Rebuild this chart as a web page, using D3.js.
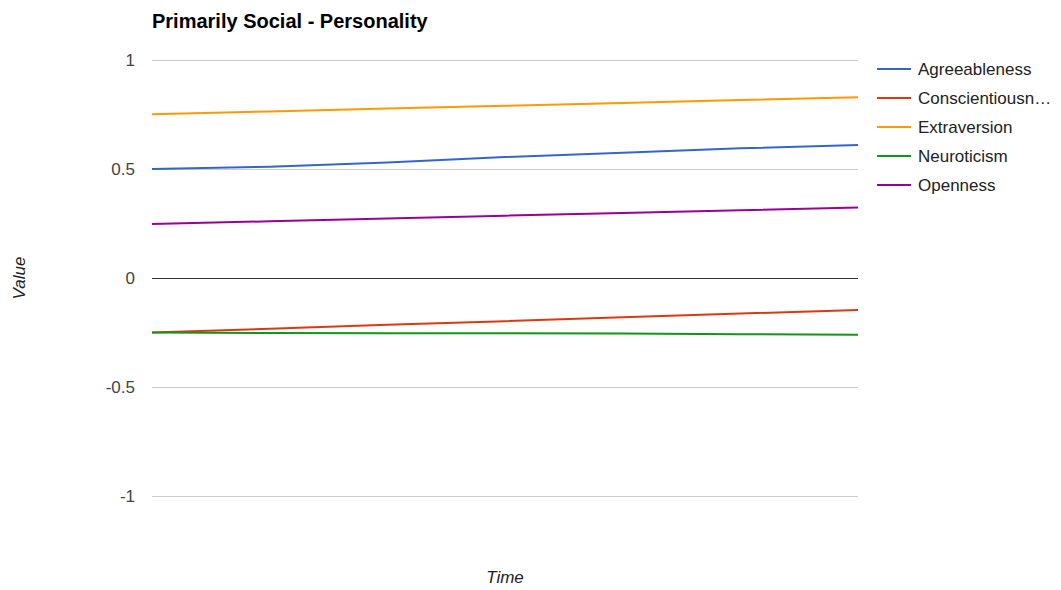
<!DOCTYPE html>
<html>
<head>
<meta charset="utf-8">
<script src="https://cdn.jsdelivr.net/npm/d3@7"></script>
<style>
  html, body { margin: 0; padding: 0; background: #fff; }
  svg { display: block; font-family: "Liberation Sans", Arial, sans-serif; }
</style>
</head>
<body>
<svg id="chart" width="1061" height="590"></svg>
<script>
// Time steps along the x axis
const timeSteps = [0, 1, 2, 3, 4, 5, 6];

// Personality trait series
const seriesNames = ["Agreeableness", "Conscientiousness", "Extraversion", "Neuroticism", "Openness"];
const legendLabels = ["Agreeableness", "Conscientiousn\u2026", "Extraversion", "Neuroticism", "Openness"];
const agreeableness     = [0.50, 0.51, 0.53, 0.555, 0.575, 0.595, 0.61];
const conscientiousness = [-0.25, -0.233, -0.215, -0.198, -0.18, -0.163, -0.147];
const extraversion      = [0.751, 0.764, 0.777, 0.790, 0.803, 0.816, 0.829];
const neuroticism       = [-0.25, -0.252, -0.253, -0.253, -0.255, -0.258, -0.26];
const openness          = [0.248, 0.26, 0.273, 0.286, 0.298, 0.311, 0.323];
const seriesValues = [agreeableness, conscientiousness, extraversion, neuroticism, openness];
const seriesColors = ["#3366cc", "#dc3912", "#ff9900", "#109618", "#990099"];

// Y axis ticks
const yTicks = [-1, -0.5, 0, 0.5, 1];
const yTickLabels = ["-1", "-0.5", "0", "0.5", "1"];

const svg = d3.select("#chart");
const plotLeft = 152, plotRight = 858, plotTop = 60, plotBottom = 496;

const x = d3.scaleLinear().domain(d3.extent(timeSteps)).range([plotLeft, plotRight]);
const y = d3.scaleLinear().domain([-1, 1]).range([plotBottom, plotTop]);

// Title
svg.append("text")
  .attr("x", 152).attr("y", 28)
  .attr("font-size", 20).attr("font-weight", "bold").attr("fill", "#000")
  .text("Primarily Social - Personality");

// Gridlines
svg.append("g").selectAll("line").data(yTicks).join("line")
  .attr("x1", plotLeft).attr("x2", plotRight)
  .attr("y1", d => Math.round(y(d)) + 0.5).attr("y2", d => Math.round(y(d)) + 0.5)
  .attr("stroke", d => d === 0 ? "#333" : "#cccccc")
  .attr("stroke-width", 1);

// Y tick labels
svg.append("g").selectAll("text").data(yTicks).join("text")
  .attr("x", 135).attr("y", d => y(d) + 6)
  .attr("text-anchor", "end").attr("font-size", 17).attr("fill", "#444")
  .text((d, i) => yTickLabels[i]);

// Axis titles
svg.append("text")
  .attr("transform", `translate(25,${y(0)}) rotate(-90)`)
  .attr("text-anchor", "middle").attr("font-size", 17)
  .attr("font-style", "italic").attr("fill", "#222")
  .text("Value");
svg.append("text")
  .attr("x", (plotLeft + plotRight) / 2).attr("y", 583)
  .attr("text-anchor", "middle").attr("font-size", 17)
  .attr("font-style", "italic").attr("fill", "#222")
  .text("Time");

// Series lines
const line = d3.line().x((d, i) => x(timeSteps[i])).y(d => y(d));
svg.append("g").selectAll("path").data(seriesValues).join("path")
  .attr("d", d => line(d))
  .attr("fill", "none")
  .attr("stroke", (d, i) => seriesColors[i])
  .attr("stroke-width", 2);

// Legend
const legend = svg.append("g").selectAll("g").data(seriesNames).join("g")
  .attr("transform", (d, i) => `translate(877,${69 + i * 29})`);
legend.append("line")
  .attr("x1", 0).attr("x2", 34).attr("y1", 0).attr("y2", 0)
  .attr("stroke", (d, i) => seriesColors[i]).attr("stroke-width", 2);
legend.append("text")
  .attr("x", 41).attr("y", 6)
  .attr("font-size", 17).attr("fill", "#222")
  .text((d, i) => legendLabels[i]);
</script>
</body>
</html>
